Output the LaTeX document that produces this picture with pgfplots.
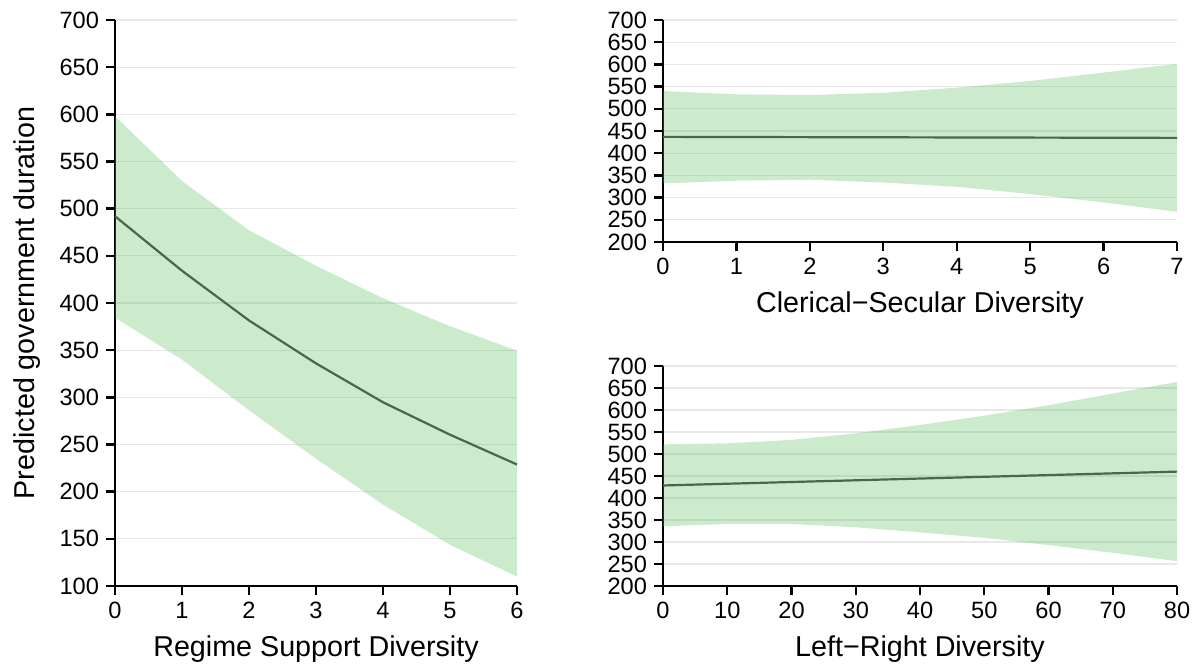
\documentclass[border=0pt]{standalone}
\usepackage{pgfplots}
\pgfplotsset{compat=1.18}
\usepackage{fontspec}
\setmainfont{Liberation Sans}
\definecolor{ribbon}{RGB}{85,185,85}
\definecolor{meanline}{RGB}{72,104,72}
\pgfplotsset{
  myax/.style={
    scale only axis,
    axis lines=left,
    axis line style={-, line width=1.3pt, black},
    tick style={black, line width=1.2pt},
    tick align=outside,
    major tick length=4.5pt,
    enlargelimits=false,
    ymajorgrids,
    grid style={color=black!9, line width=0.6pt},
    tick label style={font=\fontsize{11.8}{12}\selectfont},
    label style={font=\fontsize{14.35}{16}\selectfont},
    xlabel style={yshift=-1.5pt},
    /pgf/number format/assume math mode=true,
    clip=false,
  },
  rib/.style={fill=ribbon, fill opacity=0.3, draw=none},
  mline/.style={color=meanline, line width=1.1pt, no markers},
}
\begin{document}
\begin{tikzpicture}
\path[use as bounding box] (0,0) rectangle (599pt,333pt);
% Left panel
\begin{axis}[myax, at={(57.5pt,40pt)}, anchor=south west,
  width=201pt, height=283pt,
  xmin=0, xmax=6, ymin=100, ymax=700,
  xtick={0,...,6}, ytick={100,150,...,700},
  xlabel={Regime Support Diversity},
  ylabel={Predicted government duration},
  ylabel style={yshift=2.5pt}]
\addplot[rib] coordinates {(0,598) (1,529.4) (2,477) (3,439.5) (4,405) (5,375.4) (6,349.5)
  (6,110) (5,143.7) (4,186.2) (3,235) (2,286.3) (1,340) (0,384.4)} -- cycle;
\addplot[mline] coordinates {(0,492) (1,434.2) (2,381.5) (3,336) (4,294.8) (5,260.4) (6,228.8)};
\end{axis}
% Top right panel
\begin{axis}[myax, at={(331.5pt,212pt)}, anchor=south west,
  width=257pt, height=111pt,
  xmin=0, xmax=7, ymin=200, ymax=700,
  xtick={0,...,7}, ytick={200,250,...,700},
  xlabel={Clerical−Secular Diversity}]
\addplot[rib] coordinates {(0,540) (1,532.6) (2,531) (3,536) (4,547.7) (5,562.7) (6,581.6) (7,601)
  (7,268) (6,289) (5,308) (4,324.4) (3,334) (2,340.3) (1,338) (0,332)} -- cycle;
\addplot[mline] coordinates {(0,436.8) (7,434.5)};
\end{axis}
% Bottom right panel
\begin{axis}[myax, at={(331.5pt,40pt)}, anchor=south west,
  width=257pt, height=110pt,
  xmin=0, xmax=80, ymin=200, ymax=700,
  xtick={0,10,...,80}, ytick={200,250,...,700},
  xlabel={Left−Right Diversity}]
\addplot[rib] coordinates {(0,522) (10,524.3) (20,532) (30,547) (40,566) (50,587) (60,611) (70,637.4) (80,663.8)
  (80,256.6) (70,275.4) (60,293) (50,309.6) (40,322) (30,333.5) (20,341) (10,341) (0,335.7)} -- cycle;
\addplot[mline] coordinates {(0,428.5) (80,460)};
\end{axis}
\end{tikzpicture}
\end{document}
